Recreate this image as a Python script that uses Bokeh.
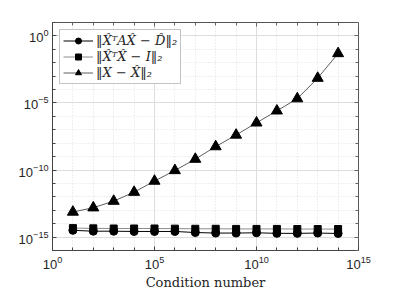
from bokeh.plotting import figure
from bokeh.models import (FixedTicker, LogAxis, Legend, LegendItem, LogTickFormatter)
from bokeh.embed import file_html
from bokeh.resources import INLINE

# condition numbers
cond = [1e1, 1e2, 1e3, 1e4, 1e5, 1e6, 1e7, 1e8, 1e9, 1e10, 1e11, 1e12, 1e13, 1e14]
# ||X^T A X - D||_2
err_eig = [3.2e-15, 2.75e-15, 2.75e-15, 2.63e-15, 2.63e-15, 2.63e-15, 2.19e-15,
           2.0e-15, 2.0e-15, 2.09e-15, 1.9e-15, 1.9e-15, 2.0e-15, 1.86e-15]
# ||X^T X - I||_2
err_orth = [4.68e-15, 4.47e-15, 4.37e-15, 4.37e-15, 4.37e-15, 4.27e-15, 4.17e-15,
            4.17e-15, 4.07e-15, 4.07e-15, 4.07e-15, 3.98e-15, 3.98e-15, 3.98e-15]
# ||X - X_hat||_2
err_vec = [7.4e-14, 1.55e-13, 4.8e-13, 2.24e-12, 1.51e-11, 9.3e-11, 6.5e-10,
           5.6e-9, 4.1e-8, 3.3e-7, 2.6e-6, 2.1e-5, 7.1e-4, 4.9e-2]

x_major = [1e0, 1e5, 1e10, 1e15]
x_minor = [10.0 ** k for k in range(0, 16)]
y_major = [1e-15, 1e-10, 1e-5, 1e0]
y_minor = [10.0 ** k for k in range(-16, 2)]

labels = ["\u2016X\u0302\u1d40AX\u0302 \u2212 D\u0302\u2016\u2082",
          "\u2016X\u0302\u1d40X\u0302 \u2212 I\u2016\u2082",
          "\u2016X \u2212 X\u0302\u2016\u2082"]

p = figure(width=396, height=296, x_axis_type="log", y_axis_type="log",
           x_range=(1e0, 1e15), y_range=(1e-16, 1e1),
           output_backend="svg", toolbar_location=None,
           min_border_left=52, min_border_right=38, min_border_top=22, min_border_bottom=46)
p.outline_line_color = "#555555"
p.outline_line_width = 1
p.background_fill_color = "white"
p.border_fill_color = "white"

xt = FixedTicker(ticks=x_major, minor_ticks=x_minor)
yt = FixedTicker(ticks=y_major, minor_ticks=y_minor)
p.xaxis.ticker = xt
p.yaxis.ticker = yt

for ax in (p.xaxis[0], p.yaxis[0]):
    ax.axis_line_color = "#444444"
    ax.major_tick_in = 4
    ax.major_tick_out = 0
    ax.minor_tick_in = 3
    ax.minor_tick_out = 0
    ax.major_tick_line_color = "#444444"
    ax.minor_tick_line_color = "#444444"
    ax.major_label_text_font = "Liberation Sans"
    ax.major_label_text_font_size = "13px"
    ax.major_label_text_color = "#262626"
p.xaxis.major_label_standoff = 5
p.yaxis.major_label_standoff = 4

p.xaxis.axis_label = "Condition number"
p.xaxis.axis_label_text_font = "DejaVu Serif"
p.xaxis.axis_label_text_font_style = "normal"
p.xaxis.axis_label_text_font_size = "13px"
p.xaxis.axis_label_text_color = "#262626"
p.xaxis.axis_label_standoff = 3

for side, tk in (("above", xt), ("right", yt)):
    ax = LogAxis(ticker=tk, formatter=LogTickFormatter())
    ax.axis_line_color = None
    ax.major_tick_in = 4
    ax.major_tick_out = 0
    ax.minor_tick_in = 3
    ax.minor_tick_out = 0
    ax.major_tick_line_color = "#666666"
    ax.minor_tick_line_color = "#666666"
    ax.major_label_text_font_size = "4px"
    ax.major_label_text_color = None
    ax.major_label_standoff = 0
    p.add_layout(ax, side)

for g, tk in ((p.xgrid[0], xt), (p.ygrid[0], yt)):
    g.ticker = tk
    g.grid_line_color = "#dddddd"
    g.grid_line_width = 1
    g.minor_grid_line_color = "#dedede"
    g.minor_grid_line_dash = "1 2"
    g.minor_grid_line_width = 1

l1 = p.line(cond, err_eig, line_color="black", line_width=1)
s1 = p.scatter(cond, err_eig, marker="circle", size=8, fill_color="black", line_color="black")
l2 = p.line(cond, err_orth, line_color="#8c8c8c", line_width=1)
s2 = p.scatter(cond, err_orth, marker="square", size=7, fill_color="black", line_color="black")
l3 = p.line(cond, err_vec, line_color="#333333", line_width=0.8)
s3 = p.scatter(cond, err_vec, marker="triangle", size=11, fill_color="black", line_color="black")

legend = Legend(items=[LegendItem(label=labels[0], renderers=[l1, s1]),
                       LegendItem(label=labels[1], renderers=[l2, s2]),
                       LegendItem(label=labels[2], renderers=[l3, s3])],
                location="top_left")
legend.margin = 7
legend.padding = 3
legend.spacing = 1
legend.glyph_width = 30
legend.glyph_height = 15
legend.label_standoff = 3
legend.label_text_font = "DejaVu Serif"
legend.label_text_font_style = "italic"
legend.label_text_font_size = "13px"
legend.label_text_color = "#262626"
legend.label_height = 15
legend.border_line_color = "#888888"
legend.border_line_width = 1
legend.background_fill_color = "white"
legend.background_fill_alpha = 1
p.add_layout(legend, "center")

open("out.html", "w").write(file_html(p, INLINE))
